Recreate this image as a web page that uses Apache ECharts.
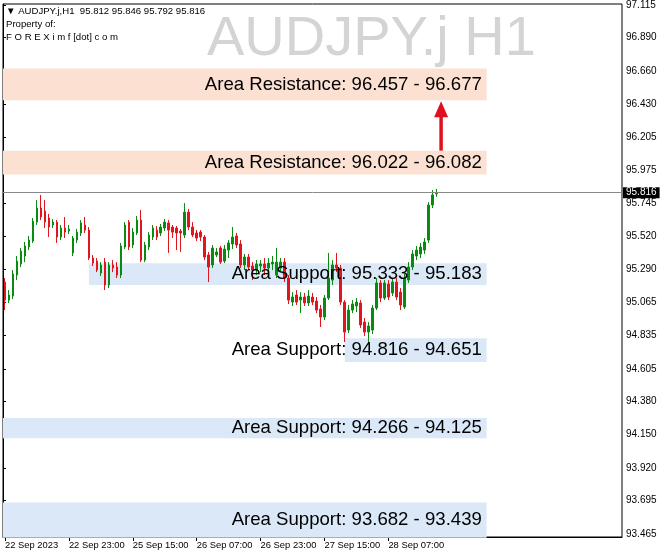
<!DOCTYPE html>
<html><head><meta charset="utf-8">
<script src="https://cdn.jsdelivr.net/npm/echarts@6/dist/echarts.min.js"></script>
<style>html,body{margin:0;padding:0;background:#fff}#c{width:664px;height:560px}</style>
</head><body><div id="c"></div>
<script>
// ---- data ----
const symbolName = 'AUDJPY.j';
const timeframe = 'H1';
const ownerLine1 = 'Property of:';
const ownerLine2 = 'F O R E X i m f [dot] c o m';
const tickLabels = ['22 Sep 2023','22 Sep 23:00','25 Sep 15:00','26 Sep 07:00','26 Sep 23:00','27 Sep 15:00','28 Sep 07:00'];
const tickEvery = 16;
const slotCount = 155;
const opens = [95.203,95.079,95.107,95.252,95.328,95.383,95.445,95.486,95.617,95.714,
95.693,95.645,95.597,95.617,95.514,95.576,95.555,95.404,95.493,95.542,
95.597,95.562,95.369,95.348,95.265,95.341,95.183,95.321,95.307,95.252,
95.445,95.617,95.459,95.542,95.631,95.355,95.445,95.514,95.562,95.542,
95.576,95.611,95.583,95.576,95.555,95.528,95.686,95.583,95.542,95.548,
95.514,95.390,95.321,95.390,95.438,95.348,95.424,95.466,95.521,95.466,
95.321,95.376,95.314,95.286,95.314,95.328,95.300,95.328,95.252,95.300,
95.341,95.231,95.065,95.114,95.079,95.100,95.059,95.100,95.072,95.017,
94.962,95.093,95.217,95.321,95.300,95.065,94.872,95.010,95.038,95.059,
94.927,94.858,94.872,95.024,95.197,95.093,95.190,95.128,95.203,95.134,
95.031,95.217,95.307,95.383,95.397,95.424,95.493,95.735,95.812];
const closes = [95.079,95.114,95.259,95.348,95.417,95.452,95.493,95.624,95.714,95.652,
95.617,95.583,95.617,95.514,95.576,95.548,95.569,95.507,95.548,95.611,
95.562,95.369,95.334,95.286,95.321,95.183,95.321,95.300,95.252,95.452,
95.597,95.445,95.548,95.631,95.355,95.459,95.528,95.576,95.514,95.583,
95.617,95.562,95.548,95.542,95.542,95.686,95.583,95.528,95.507,95.514,
95.376,95.307,95.438,95.411,95.341,95.431,95.473,95.514,95.459,95.321,
95.376,95.307,95.286,95.328,95.328,95.300,95.334,95.341,95.341,95.341,
95.231,95.079,95.100,95.065,95.100,95.059,95.107,95.065,95.010,94.962,
95.093,95.231,95.321,95.300,95.065,94.858,95.010,95.052,95.065,94.907,
94.858,94.900,95.024,95.197,95.093,95.197,95.100,95.203,95.100,95.045,
95.231,95.307,95.397,95.424,95.445,95.480,95.735,95.804,95.816];
const lows = [95.010,95.059,95.086,95.217,95.307,95.341,95.424,95.473,95.597,95.631,
95.576,95.514,95.576,95.473,95.493,95.507,95.535,95.383,95.473,95.521,
95.542,95.355,95.314,95.272,95.245,95.148,95.162,95.272,95.231,95.231,
95.431,95.424,95.438,95.528,95.341,95.341,95.424,95.493,95.493,95.521,
95.555,95.404,95.507,95.424,95.411,95.507,95.562,95.514,95.486,95.486,
95.355,95.203,95.300,95.376,95.328,95.334,95.369,95.431,95.438,95.300,
95.286,95.286,95.217,95.252,95.272,95.252,95.272,95.286,95.231,95.272,
95.203,95.052,95.038,95.045,94.989,95.038,95.038,95.045,94.989,94.893,
94.941,95.079,95.183,95.272,95.045,94.789,94.851,94.989,94.996,94.886,
94.831,94.789,94.845,95.010,95.065,95.079,95.079,95.107,95.079,95.010,
95.017,95.197,95.286,95.355,95.369,95.397,95.473,95.714,95.792];
const highs = [95.231,95.148,95.286,95.383,95.438,95.480,95.521,95.645,95.769,95.804,
95.769,95.673,95.638,95.631,95.597,95.652,95.597,95.521,95.569,95.631,
95.652,95.583,95.390,95.369,95.341,95.369,95.341,95.355,95.341,95.473,
95.617,95.631,95.576,95.659,95.700,95.480,95.548,95.597,95.590,95.604,
95.638,95.631,95.597,95.590,95.569,95.748,95.707,95.617,95.562,95.562,
95.528,95.411,95.459,95.438,95.452,95.459,95.493,95.583,95.542,95.493,
95.397,95.397,95.341,95.355,95.355,95.369,95.369,95.383,95.438,95.369,
95.369,95.252,95.134,95.148,95.134,95.128,95.148,95.128,95.100,95.045,
95.114,95.404,95.355,95.404,95.321,95.079,95.045,95.079,95.093,95.079,
94.955,94.927,95.045,95.231,95.217,95.217,95.217,95.231,95.231,95.162,
95.259,95.341,95.424,95.452,95.473,95.507,95.755,95.838,95.846];
const yTicks = [97.115,96.890,96.660,96.430,96.205,95.975,95.745,95.520,95.290,95.065,94.835,94.605,94.380,94.150,93.920,93.695,93.465];
const yMin = 93.444, yMax = 97.122;
const zoneKinds = ['resistance','resistance','support','support','support','support'];
const zoneNames = ['Area Resistance','Area Resistance','Area Support','Area Support','Area Support','Area Support'];
const zoneFirst = [96.457, 96.022, 95.333, 94.816, 94.266, 93.682];
const zoneSecond = [96.677, 96.082, 95.183, 94.651, 94.125, 93.439];
const boxTop = [96.677, 96.110, 95.333, 94.816, 94.266, 93.682];
const boxBottom = [96.457, 95.945, 95.183, 94.651, 94.125, 93.439];
const zoneStartSlot = [0, 0, 21.5, 85.6, 0, 0];

// ---- build ----
const last = opens.length - 1;
const currentPrice = closes[last];
const categories = Array.from({length: slotCount}, (_, i) =>
  (i % tickEvery === 0 && i / tickEvery < tickLabels.length) ? tickLabels[i / tickEvery] : '');
const candleData = opens.map((o, i) => [o, closes[i], lows[i], highs[i]]);
const GREEN = '#0b8a12', RED = '#e0161e';
const FONT = '"Liberation Sans", Arial, sans-serif';
const showLbl = (i, v) => v !== '';

const chart = echarts.init(document.getElementById('c'), null, {renderer: 'canvas'});
chart.setOption({
  animation: false,
  backgroundColor: '#ffffff',
  grid: {left: 3, right: 42, top: 4, bottom: 23, show: true, borderColor: '#000', borderWidth: 1, backgroundColor: 'transparent'},
  graphic: [
    {type: 'text', left: 207, top: 12, z: 0, silent: true,
     style: {text: symbolName + ' ' + timeframe, font: '56px ' + FONT, fill: '#d4d4d4'}},
    {type: 'text', left: 6, top: 6, z: 50,
     style: {text: '▼ ' + symbolName + ',' + timeframe + '  ' + [opens[last], highs[last], lows[last], closes[last]].map(v => v.toFixed(3)).join(' '), font: '9.6px ' + FONT, fill: '#000'}},
    {type: 'text', left: 6, top: 19, z: 50, style: {text: ownerLine1, font: '9.6px ' + FONT, fill: '#000'}},
    {type: 'text', left: 6, top: 32, z: 50, style: {text: ownerLine2, font: '9.6px ' + FONT, fill: '#000'}}
  ],
  xAxis: [
    {type: 'category', data: categories, boundaryGap: true,
     axisLine: {show: true, lineStyle: {color: '#000'}},
     axisTick: {show: true, interval: showLbl, alignWithLabel: true, length: 4, lineStyle: {color: '#000'}},
     axisLabel: {interval: showLbl, align: 'left', margin: 4, color: '#000', fontSize: 9.4, fontFamily: 'Liberation Sans'},
     splitLine: {show: false}},
    {type: 'value', min: 0, max: slotCount, show: false}
  ],
  yAxis: {type: 'value', position: 'right', min: yMin, max: yMax, scale: true,
    axisLine: {show: true, lineStyle: {color: '#000'}},
    axisTick: {show: true, length: 3, customValues: yTicks, lineStyle: {color: '#000'}},
    axisLabel: {customValues: yTicks, formatter: v => v.toFixed(3), color: '#000', fontSize: 10, fontFamily: 'Liberation Sans', margin: 4},
    splitLine: {show: false}},
  series: [
    {type: 'custom', xAxisIndex: 1, yAxisIndex: 0, z: 1, silent: true,
     data: boxTop.map((t, i) => [i, t]),
     renderItem: (params, api) => {
       const i = params.dataIndex;
       const p1 = api.coord([zoneStartSlot[i], boxTop[i]]);
       const p2 = api.coord([121.1, boxBottom[i]]);
       return {type: 'rect', shape: {x: p1[0], y: p1[1], width: p2[0] - p1[0], height: p2[1] - p1[1]},
               style: {fill: zoneKinds[i] === 'resistance' ? '#fce1d2' : '#dae8f7'}};
     }},
    {type: 'candlestick', xAxisIndex: 0, yAxisIndex: 0, z: 3, data: candleData, barWidth: 2,
     itemStyle: {color: GREEN, color0: RED, borderColor: GREEN, borderColor0: RED, borderWidth: 1},
     markLine: {silent: true, symbol: ['none', 'none'],
       lineStyle: {color: '#8a8a8a', width: 1, type: 'solid'},
       label: {show: true, position: 'end', distance: 1, formatter: () => currentPrice.toFixed(3),
               backgroundColor: '#000', color: '#fff', fontSize: 10, fontFamily: 'Liberation Sans', padding: [1, 3, 0, 3]},
       data: [{yAxis: currentPrice}]}},
    {type: 'custom', xAxisIndex: 1, yAxisIndex: 0, z: 5, silent: true,
     data: boxTop.map((t, i) => [i, t]),
     renderItem: (params, api) => {
       const i = params.dataIndex;
       const p = api.coord([119.9, (boxTop[i] + boxBottom[i]) / 2]);
       return {type: 'text', x: p[0], y: p[1],
               style: {text: zoneNames[i] + ': ' + zoneFirst[i].toFixed(3) + ' - ' + zoneSecond[i].toFixed(3),
                       font: '18.6px ' + FONT, fill: '#000', align: 'right', verticalAlign: 'middle'}};
     }},
    {type: 'custom', xAxisIndex: 1, yAxisIndex: 0, z: 6, silent: true,
     data: [[109.7, boxTop[1]]],
     renderItem: (params, api) => {
       const base = api.coord([109.7, boxTop[1]]);
       const tip = api.coord([109.7, boxBottom[0]]);
       const tx = tip[0], ty = tip[1] + 1;
       return {type: 'group', children: [
         {type: 'line', shape: {x1: base[0], y1: base[1], x2: tx, y2: ty + 14},
          style: {stroke: '#e0101e', lineWidth: 3.5}},
         {type: 'polygon', shape: {points: [[tx, ty], [tx - 7, ty + 16], [tx + 7, ty + 16]]},
          style: {fill: '#e0101e'}}
       ]};
     }}
  ]
});
</script></body></html>
